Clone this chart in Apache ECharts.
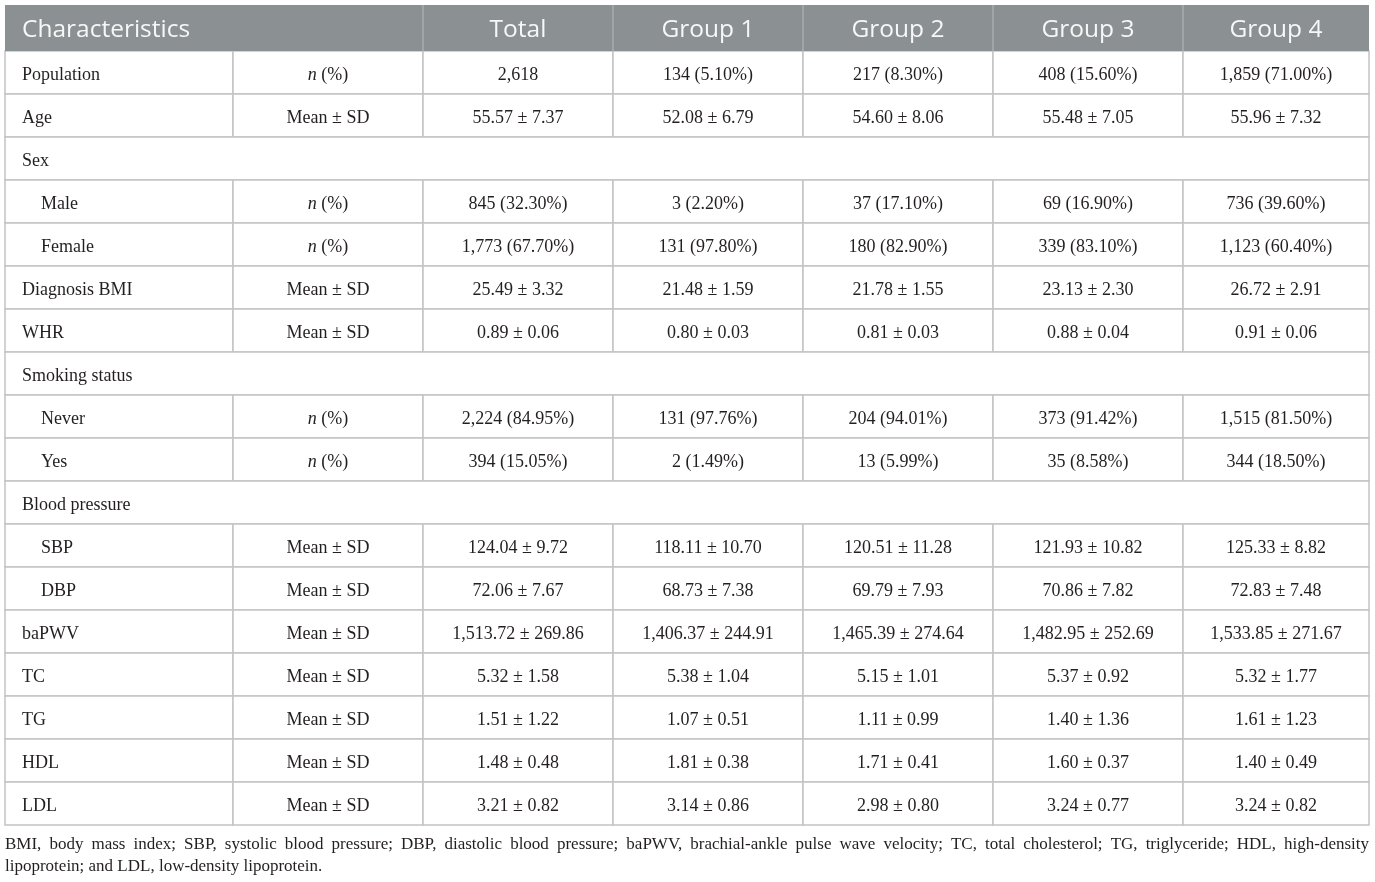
<!DOCTYPE html>
<html>
<head>
<meta charset="utf-8">
<title>Baseline characteristics</title>
<script src="https://cdn.jsdelivr.net/npm/echarts@6.0.0/dist/echarts.min.js"></script>
<style>
html, body { margin: 0; padding: 0; background: #fff; }
#main { width: 1375px; height: 882px; }
</style>
</head>
<body>
<div id="main"></div>
<script>
// table content
var headers = ['Characteristics', '', 'Total', 'Group 1', 'Group 2', 'Group 3', 'Group 4'];
var rowNames = ['Population', 'Age', 'Sex', 'Male', 'Female', 'Diagnosis BMI', 'WHR',
    'Smoking status', 'Never', 'Yes', 'Blood pressure', 'SBP', 'DBP', 'baPWV', 'TC', 'TG', 'HDL', 'LDL'];
var rowStats = ['n (%)', 'Mean ± SD', '', 'n (%)', 'n (%)', 'Mean ± SD', 'Mean ± SD',
    '', 'n (%)', 'n (%)', '', 'Mean ± SD', 'Mean ± SD', 'Mean ± SD', 'Mean ± SD', 'Mean ± SD', 'Mean ± SD', 'Mean ± SD'];
var subRows = [0, 0, 0, 1, 1, 0, 0, 0, 1, 1, 0, 1, 1, 0, 0, 0, 0, 0];
var sectionRows = [0, 0, 1, 0, 0, 0, 0, 1, 0, 0, 1, 0, 0, 0, 0, 0, 0, 0];
var totalCol = ['2,618', '55.57 ± 7.37', '', '845 (32.30%)', '1,773 (67.70%)', '25.49 ± 3.32', '0.89 ± 0.06',
    '', '2,224 (84.95%)', '394 (15.05%)', '', '124.04 ± 9.72', '72.06 ± 7.67', '1,513.72 ± 269.86',
    '5.32 ± 1.58', '1.51 ± 1.22', '1.48 ± 0.48', '3.21 ± 0.82'];
var group1Col = ['134 (5.10%)', '52.08 ± 6.79', '', '3 (2.20%)', '131 (97.80%)', '21.48 ± 1.59', '0.80 ± 0.03',
    '', '131 (97.76%)', '2 (1.49%)', '', '118.11 ± 10.70', '68.73 ± 7.38', '1,406.37 ± 244.91',
    '5.38 ± 1.04', '1.07 ± 0.51', '1.81 ± 0.38', '3.14 ± 0.86'];
var group2Col = ['217 (8.30%)', '54.60 ± 8.06', '', '37 (17.10%)', '180 (82.90%)', '21.78 ± 1.55', '0.81 ± 0.03',
    '', '204 (94.01%)', '13 (5.99%)', '', '120.51 ± 11.28', '69.79 ± 7.93', '1,465.39 ± 274.64',
    '5.15 ± 1.01', '1.11 ± 0.99', '1.71 ± 0.41', '2.98 ± 0.80'];
var group3Col = ['408 (15.60%)', '55.48 ± 7.05', '', '69 (16.90%)', '339 (83.10%)', '23.13 ± 2.30', '0.88 ± 0.04',
    '', '373 (91.42%)', '35 (8.58%)', '', '121.93 ± 10.82', '70.86 ± 7.82', '1,482.95 ± 252.69',
    '5.37 ± 0.92', '1.40 ± 1.36', '1.60 ± 0.37', '3.24 ± 0.77'];
var group4Col = ['1,859 (71.00%)', '55.96 ± 7.32', '', '736 (39.60%)', '1,123 (60.40%)', '26.72 ± 2.91', '0.91 ± 0.06',
    '', '1,515 (81.50%)', '344 (18.50%)', '', '125.33 ± 8.82', '72.83 ± 7.48', '1,533.85 ± 271.67',
    '5.32 ± 1.77', '1.61 ± 1.23', '1.40 ± 0.49', '3.24 ± 0.82'];
var footnote = ['BMI, body mass index; SBP, systolic blood pressure; DBP, diastolic blood pressure; baPWV, brachial-ankle pulse wave velocity; TC, total cholesterol; TG, triglyceride; HDL, high-density',
    'lipoprotein; and LDL, low-density lipoprotein.'];

// layout (x axis runs in table pixel units)
var colWidths = [228, 190, 190, 190, 190, 190, 186];
var tableWidth = colWidths.reduce(function (a, b) { return a + b; }, 0);
var colStart = [];
colWidths.reduce(function (acc, w, i) { colStart[i] = acc; return acc + w; }, 0);

var serif = '"Liberation Serif", "Times New Roman", serif';
var sans = '"Open Sans", "Noto Sans", sans-serif';
var lineColor = '#c3c3c3';
var textColor = '#231f20';

var bodyColumns = [rowNames, rowStats, totalCol, group1Col, group2Col, group3Col, group4Col];

var bodyData = [];
for (var r = 0; r < rowNames.length; r++) {
    for (var c = 0; c < colWidths.length; c++) {
        if (sectionRows[r] && c > 0) continue;
        bodyData.push([colStart[c], r, c]);
    }
}
var headerData = [];
headers.forEach(function (h, c) {
    if (c === 1) return;
    headerData.push([colStart[c], 0, c]);
});

function statText(s) {
    // italic n in the stats column
    return s.indexOf('n ') === 0 ? '{i|n}' + s.slice(1) : s;
}

function renderBody(params, api) {
    var c = api.value(2), r = api.value(1);
    var span = sectionRows[r] ? tableWidth : colWidths[c];
    var p0 = api.coord([api.value(0), r]);
    var p1 = api.coord([api.value(0) + span, r]);
    var h = api.size([0, 1])[1];
    var top = p0[1] - h / 2;
    var txt = bodyColumns[c][r];
    var left = c === 0;
    var tx = left ? p0[0] + 17 + (subRows[r] ? 19 : 0) : (p0[0] + p1[0]) / 2;
    return {
        type: 'group',
        children: [{
            type: 'rect',
            shape: { x: p0[0], y: top, width: p1[0] - p0[0], height: h },
            style: { fill: '#fff', stroke: lineColor, lineWidth: 1.5 }
        }, {
            type: 'text',
            style: {
                x: tx, y: p0[1] + 3,
                text: c === 1 ? statText(txt) : txt,
                font: '18px ' + serif,
                fill: textColor,
                align: left ? 'left' : 'center',
                verticalAlign: 'middle',
                rich: { i: { fontStyle: 'italic', fontSize: 18, fontFamily: serif, fill: textColor } }
            }
        }]
    };
}

function renderHeader(params, api) {
    var c = api.value(2);
    var span = c === 0 ? colWidths[0] + colWidths[1] : colWidths[c];
    var p0 = api.coord([api.value(0), 0]);
    var p1 = api.coord([api.value(0) + span, 0]);
    var h = api.size([0, 1])[1];
    var top = p0[1] - h / 2;
    var children = [{
        type: 'rect',
        shape: { x: p0[0], y: top, width: p1[0] - p0[0], height: h },
        style: { fill: '#8b9093' }
    }];
    if (c > 0) {
        children.push({
            type: 'line',
            shape: { x1: p0[0], y1: top, x2: p0[0], y2: top + h },
            style: { stroke: '#a9adaf', lineWidth: 1.5 }
        });
    }
    children.push({
        type: 'text',
        style: {
            x: c === 0 ? p0[0] + 17 : (p0[0] + p1[0]) / 2,
            y: p0[1] + 2,
            text: headers[c],
            font: '24.5px ' + sans,
            fill: '#f7f7f7',
            align: c === 0 ? 'left' : 'center',
            verticalAlign: 'middle'
        }
    });
    return { type: 'group', children: children };
}

// justified footnote lines
var measureCtx = document.createElement('canvas').getContext('2d');
measureCtx.font = '17px ' + serif;
var footGraphics = [];
footnote.forEach(function (line, li) {
    var words = line.split(' ');
    var y = 846 + li * 22;
    var justify = li < footnote.length - 1;
    var widths = words.map(function (w) { return measureCtx.measureText(w).width; });
    var sum = widths.reduce(function (a, b) { return a + b; }, 0);
    var gap = justify ? (tableWidth - sum) / (words.length - 1) : measureCtx.measureText(' ').width;
    var x = 5;
    words.forEach(function (w, i) {
        footGraphics.push({
            type: 'text', left: x, top: y - 10,
            style: { text: w, font: '17px ' + serif, fill: textColor }
        });
        x += widths[i] + gap;
    });
});

var chart = echarts.init(document.getElementById('main'), null, { renderer: 'canvas' });
chart.setOption({
    backgroundColor: '#fff',
    animation: false,
    grid: [
        { left: 5, right: 6, top: 51, height: 774 },
        { left: 5, right: 6, top: 5, height: 46 }
    ],
    xAxis: [
        { gridIndex: 0, type: 'value', min: 0, max: tableWidth, show: false },
        { gridIndex: 1, type: 'value', min: 0, max: tableWidth, show: false }
    ],
    yAxis: [
        { gridIndex: 0, type: 'category', data: rowNames, inverse: true, show: false },
        { gridIndex: 1, type: 'category', data: ['header'], show: false }
    ],
    series: [{
        type: 'custom',
        xAxisIndex: 0, yAxisIndex: 0,
        renderItem: renderBody,
        encode: { x: 0, y: 1 },
        data: bodyData
    }, {
        type: 'custom',
        xAxisIndex: 1, yAxisIndex: 1,
        renderItem: renderHeader,
        encode: { x: 0, y: 1 },
        data: headerData
    }],
    graphic: footGraphics
});
</script>
</body>
</html>
